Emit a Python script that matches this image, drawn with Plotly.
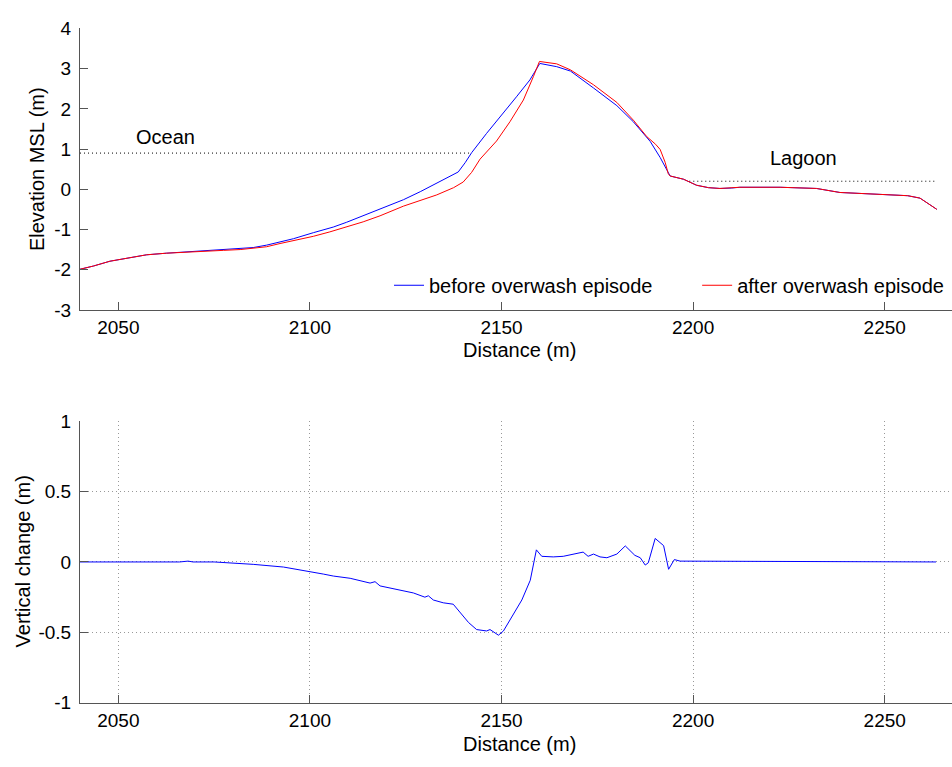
import plotly.graph_objects as go

# ---------------- data ----------------
dist_before = [2040, 2043.5, 2047.8, 2051.3, 2057.4, 2062.6, 2066.1, 2069.6, 2077.4,
               2081.8, 2085.2, 2088.7, 2092.2, 2095.7, 2100.9, 2106.1, 2109.6, 2113.9,
               2118.3, 2124.4, 2128.8, 2133.1, 2136.5, 2138.7, 2140.5, 2142.2, 2146.1,
               2150.5, 2153.9, 2157.4, 2160.0, 2164.4, 2168.0, 2174.0, 2180.1, 2184.4,
               2188.8, 2191.4, 2193.5, 2194.0, 2197.5, 2200.9, 2204.0, 2207.0, 2210.0,
               2212.2, 2222.7, 2232.2, 2238.3, 2248.0, 2256.0, 2259.2, 2263.6]
elev_before = [-1.99, -1.91, -1.79, -1.73, -1.63, -1.59, -1.57, -1.55, -1.50,
               -1.48, -1.45, -1.39, -1.31, -1.23, -1.08, -0.94, -0.82, -0.66,
               -0.48, -0.26, -0.06, 0.15, 0.31, 0.43, 0.66, 0.91, 1.39,
               1.92, 2.30, 2.72, 3.13, 3.05, 2.94, 2.52, 2.08, 1.68,
               1.19, 0.79, 0.39, 0.33, 0.25, 0.10, 0.04, 0.02, 0.03,
               0.05, 0.05, 0.02, -0.08, -0.12, -0.16, -0.22, -0.50]

dist_after = [2040, 2043.5, 2047.8, 2051.3, 2057.4, 2062.6, 2066.1, 2069.6, 2077.4,
              2081.8, 2085.2, 2088.7, 2092.2, 2096.5, 2100.9, 2105.2, 2109.6, 2113.9,
              2118.3, 2124.4, 2133.1, 2137.5, 2140.0, 2142.2, 2144.4, 2148.7, 2152.2,
              2155.7, 2158.3, 2159.9, 2164.4, 2168.0, 2174.0, 2180.1, 2184.4, 2187.9,
              2190.2, 2191.4, 2192.7, 2193.5, 2194.0, 2197.5, 2200.9, 2204.0, 2207.0,
              2210.0, 2212.2, 2222.7, 2232.2, 2238.3, 2248.0, 2256.0, 2259.2, 2263.6]
elev_after = [-1.99, -1.91, -1.79, -1.73, -1.63, -1.59, -1.57, -1.55, -1.52,
              -1.50, -1.47, -1.43, -1.35, -1.27, -1.17, -1.06, -0.94, -0.81,
              -0.66, -0.42, -0.14, 0.04, 0.18, 0.42, 0.75, 1.20, 1.68,
              2.22, 2.80, 3.18, 3.12, 2.97, 2.60, 2.16, 1.72, 1.31,
              1.12, 0.99, 0.67, 0.39, 0.33, 0.25, 0.10, 0.04, 0.02,
              0.03, 0.05, 0.05, 0.02, -0.08, -0.12, -0.16, -0.22, -0.50]

ocean_x = [2040, 2142]
ocean_level = [0.9, 0.9]
lagoon_x = [2199, 2263]
lagoon_level = [0.2, 0.2]

dist_change = [2040, 2066.0, 2068.2, 2069.5, 2075.0, 2078.3, 2085.2, 2093.1, 2099.2,
               2103.5, 2106.1, 2110.5, 2115.7, 2117.0, 2118.3, 2123.5, 2127.0, 2130.0,
               2130.9, 2132.2, 2134.8, 2137.4, 2139.2, 2141.4, 2143.5, 2146.1, 2147.0,
               2149.2, 2150.5, 2153.1, 2155.3, 2157.5, 2158.4, 2159.1, 2160.5, 2163.5,
               2166.1, 2170.0, 2171.3, 2172.6, 2174.0, 2175.7, 2177.5, 2180.1, 2182.3,
               2184.8, 2186.2, 2187.5, 2188.3, 2190.1, 2192.3, 2193.6, 2195.1, 2196.6,
               2263.4]
change = [0.0, 0.0, 0.006, 0.0, 0.0, -0.005, -0.017, -0.036, -0.063,
          -0.086, -0.10, -0.116, -0.15, -0.14, -0.17, -0.197, -0.22, -0.25,
          -0.24, -0.27, -0.29, -0.30, -0.36, -0.43, -0.48, -0.49, -0.48,
          -0.52, -0.49, -0.37, -0.27, -0.13, -0.02, 0.086, 0.04, 0.036,
          0.04, 0.063, 0.07, 0.04, 0.056, 0.036, 0.03, 0.056, 0.114,
          0.047, 0.03, -0.022, -0.006, 0.167, 0.116, -0.052, 0.017, 0.006,
          0.0]

x_ticks = [2050, 2100, 2150, 2200, 2250]
x_ticklabels = ["2050", "2100", "2150", "2200", "2250"]
y1_ticks = [-3, -2, -1, 0, 1, 2, 3, 4]
y1_ticklabels = ["-3", "-2", "-1", "0", "1", "2", "3", "4"]
y2_ticks = [-1, -0.5, 0, 0.5, 1]
y2_ticklabels = ["-1", "-0.5", "0", "0.5", "1"]

# ---------------- figure ----------------
W, H = 952, 767
FONT = "Liberation Sans, Arial, sans-serif"
AX = "#555555"
GRID = "#999999"

fig = go.Figure()
fig.add_trace(go.Scatter(x=ocean_x, y=ocean_level, mode="lines",
                         line=dict(color="black", width=1, dash="1px,3px"),
                         showlegend=False, hoverinfo="skip", xaxis="x", yaxis="y"))
fig.add_trace(go.Scatter(x=lagoon_x, y=lagoon_level, mode="lines",
                         line=dict(color="black", width=1, dash="1px,3px"),
                         showlegend=False, hoverinfo="skip", xaxis="x", yaxis="y"))
fig.add_trace(go.Scatter(x=dist_before, y=elev_before, mode="lines",
                         name="before overwash episode", legend="legend",
                         line=dict(color="#0000ff", width=1), xaxis="x", yaxis="y"))
fig.add_trace(go.Scatter(x=dist_after, y=elev_after, mode="lines",
                         name="after overwash episode", legend="legend2",
                         line=dict(color="#ff0000", width=1), xaxis="x", yaxis="y"))
fig.add_trace(go.Scatter(x=dist_change, y=change, mode="lines",
                         line=dict(color="#0000ff", width=1), showlegend=False,
                         xaxis="x2", yaxis="y2"))

xr = [2040, 2040 + 872 / 3.832]
common_x = dict(range=xr, domain=[80 / W, 1], tickvals=x_ticks, ticktext=x_ticklabels,
                ticks="inside", ticklen=8, tickcolor=AX, showline=True, linecolor=AX,
                linewidth=1, zeroline=False, tickfont=dict(family=FONT, size=19, color="black"),
                ticklabelstandoff=0)
common_y = dict(ticks="inside", ticklen=8, tickcolor=AX, showline=True, linecolor=AX,
                linewidth=1, zeroline=False, tickfont=dict(family=FONT, size=19, color="black"),
                ticklabelstandoff=4)

leg_common = dict(orientation="h", yanchor="middle", y=1 - 283 / H,
                  bgcolor="rgba(0,0,0,0)", borderwidth=0,
                  font=dict(family=FONT, size=20, color="black"))

fig.update_layout(
    width=W, height=H,
    margin=dict(l=0, r=0, t=0, b=0),
    paper_bgcolor="white", plot_bgcolor="white",
    font=dict(family=FONT, size=20, color="black"),
    xaxis=dict(anchor="y", showgrid=False, **common_x),
    yaxis=dict(domain=[1 - 308.3 / H, 1 - 19 / H], range=[-3, 4], tickvals=y1_ticks,
               ticktext=y1_ticklabels, showgrid=False, anchor="x", **common_y),
    xaxis2=dict(anchor="y2", showgrid=True, gridcolor=GRID, griddash="1px,3px",
                gridwidth=1, **common_x),
    yaxis2=dict(domain=[1 - 712.3 / H, 1 - 422.7 / H], range=[-1, 1], tickvals=y2_ticks,
                ticktext=y2_ticklabels, showgrid=True, gridcolor=GRID, griddash="1px,3px",
                gridwidth=1, anchor="x2", **common_y),
    legend=dict(x=389 / W, xanchor="left", **leg_common),
    legend2=dict(x=0.997, xanchor="right", **leg_common),
    showlegend=True,
)

annots = [
    dict(text="Distance (m)", x=519 / W, y=1 - 350 / H, xref="paper", yref="paper",
         xanchor="center", yanchor="middle", showarrow=False),
    dict(text="Distance (m)", x=519 / W, y=1 - 755 / H, xref="paper", yref="paper",
         xanchor="center", yanchor="middle", showarrow=False),
    dict(text="Elevation MSL (m)", x=37 / W, y=1 - 163.6 / H, xref="paper", yref="paper",
         xanchor="center", yanchor="middle", textangle=-90, showarrow=False),
    dict(text="Vertical change (m)", x=22.5 / W, y=1 - 567.5 / H, xref="paper", yref="paper",
         xanchor="center", yanchor="middle", textangle=-90, showarrow=False),
    dict(text="Ocean", x=2062.4, y=1.29, xref="x", yref="y", xanchor="center",
         yanchor="middle", showarrow=False),
    dict(text="Lagoon", x=2228.7, y=0.78, xref="x", yref="y", xanchor="center",
         yanchor="middle", showarrow=False),
]
fig.update_layout(annotations=annots)

fig.write_html("out.html")
